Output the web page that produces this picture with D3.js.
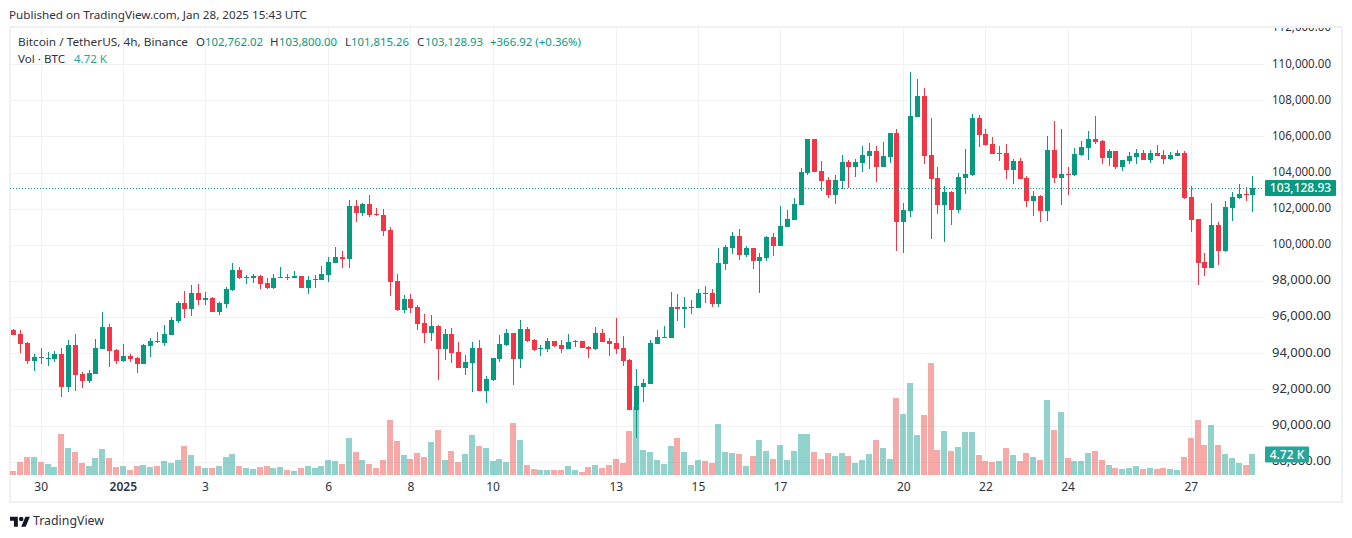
<!DOCTYPE html>
<html>
<head>
<meta charset="utf-8">
<title>BTCUSDT 4h</title>
<script src="https://cdn.jsdelivr.net/npm/d3@7"></script>
<style>
  html, body { margin: 0; padding: 0; background: #fff; }
  svg { display: block; }
  text { font-family: "Noto Sans", sans-serif; }
</style>
</head>
<body>
<div id="chart"></div>
<script>
//****data****
const priceTicks = [88000, 90000, 92000, 94000, 96000, 98000, 100000, 102000, 104000, 106000, 108000, 110000, 112000];
const dateTicks = ["2024-12-30", "2025-01-01", "2025-01-03", "2025-01-06", "2025-01-08", "2025-01-10", "2025-01-13", "2025-01-15", "2025-01-17", "2025-01-20", "2025-01-22", "2025-01-24", "2025-01-27"];
const dateLabels = ["30", "2025", "3", "6", "8", "10", "13", "15", "17", "20", "22", "24", "27"];

const opens = [
  95295, 95074, 94576, 93580, 93801, 93691, 93691, 93967, 92142, 94465,
  92861, 92474, 92861, 94244, 95461, 94189, 93580, 93857, 93746, 93414,
  94410, 94687, 94576, 95018, 95793, 96789, 96457, 97342, 96955, 97065,
  96291, 96733, 97508, 98614, 98172, 98172, 98282, 97895, 97618, 98172,
  98227, 98172, 98282, 97618, 98061, 98061, 98338, 98998, 99333, 99223,
  102155, 101767, 102265, 101712, 101657, 100827, 98006, 96401, 97010, 96567,
  95682, 95129, 95516, 94244, 95074, 94078, 93193, 93470, 94299, 91920,
  92529, 93691, 94465, 95129, 93691, 95350, 94742, 94244, 94244, 94687,
  94465, 94244, 94631, 94687, 94355, 94244, 95129, 94687, 94576, 94299,
  93635, 90869, 92142, 92308, 94519, 94851, 94851, 96566, 96455, 96511,
  96513, 97343, 97343, 96734, 98947, 99832, 100496, 99445, 99832, 99113,
  99279, 100441, 99943, 100994, 101381, 102211, 103981, 105862, 104092, 103594,
  102764, 103539, 104590, 104313, 104534, 104921, 105198, 104313, 104866, 106194,
  101270, 101879, 107079, 108241, 104977, 103704, 102211, 102930, 101934, 103704,
  103870, 107023, 106138, 105585, 105032, 105087, 104147, 104644, 103704, 102432,
  102708, 101878, 105253, 103704, 103925, 103870, 104976, 105364, 105861, 105751,
  104810, 105198, 104313, 104644, 104866, 105087, 104700, 105087, 104976, 104755,
  104921, 105087, 102653, 101436, 99057, 98725, 101104, 99666, 102044, 102598,
  102819, 102762.02
];
const highs = [
  95350, 95295, 94631, 93967, 94299, 94078, 94133, 94299, 94742, 95074,
  92972, 93082, 94797, 96291, 95627, 94244, 94520, 93967, 93801, 94520,
  94852, 95184, 95571, 96014, 96899, 97452, 97784, 97840, 97397, 97121,
  96844, 97674, 98998, 98780, 98338, 98393, 98338, 98172, 98393, 98780,
  98393, 98559, 98282, 98282, 98338, 98835, 99333, 99887, 99665, 102487,
  102487, 102321, 102763, 102044, 101989, 100993, 98393, 97231, 97286, 96678,
  96180, 96125, 95571, 95350, 95406, 94631, 93912, 94631, 94742, 92750,
  93746, 95018, 95350, 95129, 95848, 95461, 94797, 94465, 94852, 94687,
  94742, 95074, 94742, 94687, 94410, 95461, 95350, 94852, 95959, 94963,
  93691, 93137, 92584, 94740, 95294, 95515, 97396, 97285, 97119, 96953,
  97564, 97730, 97564, 99832, 99998, 100717, 100883, 99943, 99832, 99555,
  100496, 100662, 102155, 101934, 102598, 104258, 105862, 105862, 104645, 103760,
  103870, 104977, 104700, 104756, 105475, 105641, 105475, 105696, 106194, 106415,
  102321, 109569, 109182, 108684, 107024, 104313, 103262, 102985, 103981, 105308,
  107245, 107189, 106415, 105972, 105474, 105585, 104755, 104810, 103815, 102985,
  102764, 106027, 106857, 106415, 104313, 105364, 105751, 106304, 107134, 105806,
  105308, 105198, 104700, 105142, 105308, 105253, 105253, 105530, 105253, 105142,
  105253, 105198, 103261, 101436, 99555, 102321, 101270, 102432, 102930, 103372,
  103206, 103800
];
const lows = [
  95018, 94023, 93414, 93027, 93414, 93304, 93525, 91589, 91865, 91920,
  92086, 92363, 92861, 94244, 93248, 93414, 93525, 93525, 92916, 93414,
  93801, 94576, 94410, 95018, 95682, 95959, 96070, 96678, 96678, 96291,
  96125, 96512, 97452, 98116, 97840, 97895, 97563, 97563, 97563, 98172,
  98061, 98172, 97618, 97286, 97618, 98061, 97950, 98998, 98725, 98725,
  101270, 101601, 101546, 101601, 100495, 97176, 96346, 96236, 96236, 95295,
  94576, 94687, 92529, 93635, 93470, 93193, 92806, 91865, 91920, 91257,
  92474, 93525, 94410, 92252, 93193, 94631, 94133, 93857, 94078, 94355,
  94023, 94244, 94355, 94299, 93746, 94189, 94631, 93857, 93967, 93304,
  90869, 89321, 91312, 92308, 94519, 94851, 94851, 95792, 95404, 96179,
  96513, 96789, 96568, 96568, 98615, 99500, 99168, 99334, 98670, 97343,
  99113, 99390, 99943, 100994, 101381, 102211, 103870, 104036, 102985, 102598,
  102266, 103096, 103151, 103760, 104036, 104202, 103483, 104313, 104534, 99666,
  99555, 101547, 107079, 104479, 100330, 101713, 100164, 101104, 101768, 102819,
  103815, 105419, 105474, 105032, 104644, 103649, 103372, 103649, 102100, 101602,
  101270, 101325, 103427, 102210, 102764, 103815, 104921, 104700, 105585, 104479,
  104368, 104202, 104091, 104479, 104479, 104700, 104534, 104921, 104479, 104700,
  104921, 102542, 100717, 97785, 98283, 98725, 98891, 99610, 101325, 102542,
  102432, 101815.26
];
const closes = [
  95020, 94520, 93580, 93801, 93746, 93746, 93967, 92142, 94465, 92806,
  92474, 92916, 94299, 95461, 94133, 93580, 93857, 93691, 93414, 94465,
  94687, 94631, 95074, 95848, 96789, 96457, 97342, 96955, 97065, 96291,
  96789, 97563, 98614, 98172, 98227, 98282, 97840, 97618, 98172, 98227,
  98172, 98282, 97618, 98061, 98116, 98393, 99057, 99333, 99223, 102155,
  101767, 102265, 101657, 101657, 100772, 97950, 96401, 97010, 96512, 95627,
  95129, 95516, 94244, 95074, 94023, 93193, 93525, 94299, 91920, 92584,
  93746, 94520, 95129, 93691, 95350, 94687, 94189, 94299, 94687, 94410,
  94244, 94631, 94687, 94299, 94244, 95129, 94631, 94520, 94244, 93580,
  90869, 92197, 92363, 94574, 94906, 94906, 96566, 96455, 96566, 96566,
  97343, 97287, 96734, 98998, 99887, 100496, 99445, 99832, 99113, 99334,
  100441, 99943, 101049, 101436, 102266, 104036, 105862, 104036, 103539, 102764,
  103594, 104590, 104313, 104590, 104977, 105198, 104313, 104921, 106194, 101270,
  101934, 107135, 108241, 104921, 103649, 102211, 102930, 101934, 103760, 103925,
  107023, 106083, 105530, 105032, 105087, 104147, 104644, 103649, 102432, 102708,
  101878, 105253, 103704, 103925, 103870, 105032, 105419, 105861, 105696, 104810,
  105198, 104313, 104700, 104921, 105087, 104700, 105087, 104921, 104755, 104976,
  105087, 102598, 101381, 99002, 98725, 101104, 99666, 102100, 102653, 102819,
  102764, 103128.93
];
// volume in thousands of BTC
const volumes = [
  0.90, 2.92, 4.05, 4.05, 2.92, 2.47, 1.80, 9.21, 6.07, 5.17,
  2.70, 2.02, 3.82, 5.84, 3.82, 1.80, 2.02, 1.12, 2.02, 2.25,
  1.80, 2.02, 3.15, 2.70, 3.37, 6.52, 4.50, 2.02, 1.57, 1.57,
  2.02, 4.05, 4.72, 2.02, 1.57, 1.35, 1.80, 2.02, 1.57, 1.80,
  1.12, 0.90, 1.57, 2.02, 1.57, 2.02, 3.37, 3.15, 2.47, 8.31,
  5.17, 3.37, 2.47, 1.57, 3.37, 12.36, 7.64, 4.50, 3.60, 4.94,
  4.05, 7.42, 10.11, 3.37, 5.39, 2.92, 4.72, 8.99, 6.52, 6.07,
  3.15, 3.60, 2.92, 11.69, 7.87, 2.25, 1.35, 1.12, 1.12, 1.12,
  1.12, 2.02, 1.12, 0.67, 1.80, 2.25, 1.57, 2.25, 3.60, 2.70,
  9.89, 15.21, 5.62, 5.17, 3.37, 2.47, 6.52, 8.31, 5.17, 2.25,
  3.37, 3.15, 2.70, 11.46, 5.17, 4.94, 4.72, 2.02, 4.27, 7.87,
  5.39, 3.60, 6.74, 3.37, 5.39, 9.21, 9.21, 5.17, 3.60, 4.94,
  4.27, 4.94, 4.27, 2.70, 3.37, 4.72, 7.87, 6.07, 3.60, 17.30,
  13.71, 20.67, 8.99, 13.48, 25.17, 5.62, 9.89, 5.39, 6.29, 9.66,
  9.66, 4.50, 3.15, 2.92, 3.15, 6.07, 4.50, 3.15, 4.94, 4.05,
  3.37, 16.85, 10.11, 14.16, 3.82, 3.15, 3.15, 4.94, 5.39, 3.37,
  2.25, 1.57, 1.35, 1.57, 2.02, 1.35, 1.57, 1.35, 1.57, 1.35,
  1.12, 4.05, 8.31, 12.36, 6.74, 11.24, 6.74, 4.72, 3.82, 2.70,
  2.25, 4.72
];

//****configuration****
const w = 1352;
const h = 538;
const paneLeft = 10;
const paneRight = 1264;
const paneTop = 27;
const paneBottom = 478;
const upColor = "#089981";
const downColor = "#F23645";
const volUpColor = "#26a69a";
const volDownColor = "#ef5350";
const textColor = "#2f3240";

const firstCandle = new Date(Date.UTC(2024, 11, 29, 8));
const candleTimes = opens.map((d, i) => d3.utcHour.offset(firstCandle, i * 4));
const lastPrice = closes[closes.length - 1];
const lastVolume = volumes[volumes.length - 1];

const x = d3.scaleUtc()
    .domain([firstCandle, candleTimes[candleTimes.length - 1]])
    .range([13.3, 1252.4]);
const y = d3.scaleLinear().domain([88000, 110000]).range([461.7, 64.2]);
const yVol = d3.scaleLinear().domain([0, 25.17]).range([475, 363]);

const svg = d3.select("#chart")
    .append("svg")
    .attr("width", w)
    .attr("height", h);

// grid
const grid = svg.append("g").attr("shape-rendering", "crispEdges").attr("stroke", "#f0f1f3");
grid.selectAll(".h").data(priceTicks.slice(0, -1)).enter().append("line")
    .attr("x1", paneLeft).attr("x2", paneRight)
    .attr("y1", d => Math.round(y(d))).attr("y2", d => Math.round(y(d)));
grid.selectAll(".v").data(dateTicks).enter().append("line")
    .attr("x1", d => Math.round(x(new Date(d)))).attr("x2", d => Math.round(x(new Date(d))))
    .attr("y1", paneTop).attr("y2", paneBottom);

// frame
svg.append("rect")
    .attr("x", 10).attr("y", 27).attr("width", 1332).attr("height", 475)
    .attr("fill", "none").attr("stroke", "#f0f1f4").attr("stroke-width", 2)
    .attr("shape-rendering", "crispEdges");

// volume
svg.append("g").attr("shape-rendering", "crispEdges").attr("fill-opacity", 0.5)
    .selectAll("rect").data(volumes).enter().append("rect")
    .attr("x", (d, i) => Math.round(x(candleTimes[i]) - 3))
    .attr("width", 6)
    .attr("y", d => yVol(d))
    .attr("height", d => yVol(0) - yVol(d))
    .attr("fill", (d, i) => closes[i] >= opens[i] ? volUpColor : volDownColor);

// candles
const candles = svg.append("g").attr("shape-rendering", "crispEdges")
    .selectAll("g").data(opens).enter().append("g")
    .attr("fill", (d, i) => closes[i] >= opens[i] ? upColor : downColor);
candles.append("rect")
    .attr("x", (d, i) => Math.round(x(candleTimes[i])))
    .attr("width", 1)
    .attr("y", (d, i) => y(highs[i]))
    .attr("height", (d, i) => y(lows[i]) - y(highs[i]));
candles.append("rect")
    .attr("x", (d, i) => Math.round(x(candleTimes[i])) - 2)
    .attr("width", 5)
    .attr("y", (d, i) => y(Math.max(opens[i], closes[i])))
    .attr("height", (d, i) => Math.max(1, Math.abs(y(opens[i]) - y(closes[i]))));

// last price line
svg.append("line")
    .attr("x1", paneLeft).attr("x2", paneRight)
    .attr("y1", Math.round(y(lastPrice)) + 0.5).attr("y2", Math.round(y(lastPrice)) + 0.5)
    .attr("stroke", upColor).attr("stroke-dasharray", "1 2");

// axes, the top label is cut by the pane edge
svg.append("clipPath").attr("id", "axisClip").append("rect")
    .attr("x", 1265).attr("y", 28).attr("width", 76).attr("height", 450);
const priceAxis = svg.append("g")
    .attr("clip-path", "url(#axisClip)")
    .append("g")
    .attr("transform", "translate(1272,-1)")
    .call(d3.axisRight(y).tickValues(priceTicks).tickFormat(d3.format(",.2f")).tickSize(0).tickPadding(0));
priceAxis.select(".domain").remove();
priceAxis.selectAll("text").attr("fill", textColor).attr("font-size", 12).attr("font-family", '"Noto Sans", sans-serif')
    .attr("textLength", 59).attr("lengthAdjust", "spacingAndGlyphs");

const timeAxis = svg.append("g")
    .attr("transform", "translate(0,482)")
    .call(d3.axisBottom(x).tickValues(dateTicks.map(d => new Date(d)))
        .tickFormat((d, i) => dateLabels[i]).tickSize(0).tickPadding(0));
timeAxis.select(".domain").remove();
timeAxis.selectAll("text").attr("fill", textColor).attr("font-size", 12).attr("font-family", '"Noto Sans", sans-serif')
    .attr("dy", "0.71em").attr("font-weight", (d, i) => dateLabels[i] === "2025" ? 600 : 400);

// value tags on the axis
svg.append("rect").attr("x", 1265).attr("y", Math.round(y(lastPrice)) - 8).attr("width", 71).attr("height", 16)
    .attr("fill", upColor).attr("rx", 1);
svg.append("text").attr("x", 1300.5).attr("y", Math.round(y(lastPrice)) + 4)
    .attr("text-anchor", "middle").attr("fill", "#fff").attr("font-size", 12).attr("font-weight", 500)
    .text(d3.format(",.2f")(lastPrice));
svg.append("rect").attr("x", 1265).attr("y", yVol(lastVolume) + 0.5 - 8 - 0).attr("width", 44).attr("height", 16)
    .attr("fill", volUpColor).attr("rx", 1);
svg.append("text").attr("x", 1287).attr("y", yVol(lastVolume) + 5)
    .attr("text-anchor", "middle").attr("fill", "#fff").attr("font-size", 12).attr("font-weight", 500)
    .text(lastVolume + " K");

// header and legend
function label(px, py, str, color, textLen) {
    const t = svg.append("text").attr("x", px).attr("y", py).attr("font-size", 11.5).attr("fill", color).text(str);
    if (textLen) t.attr("textLength", textLen).attr("lengthAdjust", "spacingAndGlyphs");
    return t;
}
label(9, 19, "Published on TradingView.com, Jan 28, 2025 15:43 UTC", textColor, 298);
label(18, 46, "Bitcoin / TetherUS, 4h, Binance", textColor, 170);
label(196, 46, "O", textColor);
label(205, 46, d3.format(",.2f")(opens[opens.length - 1]), upColor, 58);
label(270, 46, "H", textColor);
label(279, 46, d3.format(",.2f")(highs[highs.length - 1]), upColor, 58);
label(345, 46, "L", textColor);
label(351, 46, d3.format(",.2f")(lows[lows.length - 1]), upColor, 58);
label(417, 46, "C", textColor);
label(425, 46, d3.format(",.2f")(lastPrice), upColor, 58);
label(490, 46, "+366.92 (+0.36%)", upColor, 91);
label(18, 63, "Vol · BTC", textColor, 47);
label(74, 63, lastVolume + " K", volUpColor, 33);

// logo
const logo = svg.append("g").attr("transform", "translate(10,514.5) scale(0.56)").attr("fill", "#131722");
logo.append("path").attr("d", "M14 22H7V11H0V4h14v18ZM28 22h-8l7.5-18h8L28 22Z");
logo.append("circle").attr("cx", 20).attr("cy", 8).attr("r", 4);
svg.append("text").attr("x", 33).attr("y", 525).attr("font-size", 13).attr("fill", textColor)
    .attr("textLength", 71).attr("lengthAdjust", "spacingAndGlyphs").text("TradingView");
</script>
</body>
</html>
